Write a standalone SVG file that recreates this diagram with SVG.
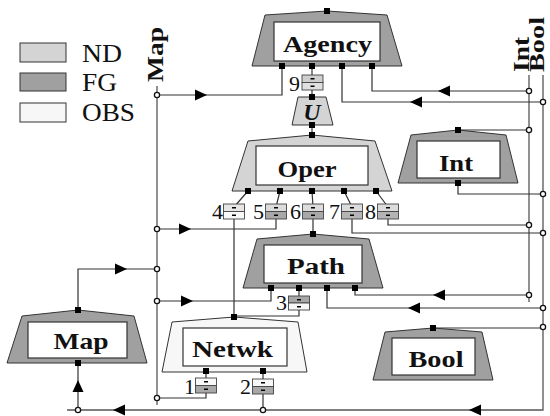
<svg xmlns="http://www.w3.org/2000/svg" xmlns:xlink="http://www.w3.org/1999/xlink" width="550" height="416" viewBox="0 0 550 416">
<style>
.fg{fill:#a0a0a0;stroke:#333;stroke-width:1}
.nd{fill:#d4d4d4;stroke:#333;stroke-width:1}
.obs{fill:#f7f7f7;stroke:#333;stroke-width:1}
.in{fill:#fff;stroke:#333;stroke-width:1.2}
.lbl{font-family:"Liberation Serif","DejaVu Serif","Times New Roman",serif;font-weight:bold;font-size:24px;fill:#111;text-anchor:middle}
.leg{font-family:"Liberation Serif","DejaVu Serif","Times New Roman",serif;font-size:26px;fill:#111}
.num{font-family:"Liberation Serif","DejaVu Serif","Times New Roman",serif;font-size:22px;fill:#111;text-anchor:end}
.ln{fill:none;stroke:#333;stroke-width:1.2}
.bus{fill:none;stroke:#555;stroke-width:1.3}
.dot{fill:#fff;stroke:#111;stroke-width:1.3}
.bx{stroke:#444;stroke-width:0.9}
.ds{fill:#000}
</style>
<defs>
<path id="arr" d="M6,0 L-6,-5.5 L-6,5.5 Z" fill="#000"/>
<rect id="sq" x="-3" y="-3" width="6" height="6" fill="#000"/>
</defs>

<g id="legend">
<rect x="20" y="43" width="46" height="19" class="nd"/>
<rect x="20" y="73" width="46" height="18" class="fg"/>
<rect x="20" y="103" width="46" height="19" class="obs"/>
<text class="leg" x="82" y="62" textLength="40" lengthAdjust="spacingAndGlyphs">ND</text>
<text class="leg" x="82" y="91" textLength="35" lengthAdjust="spacingAndGlyphs">FG</text>
<text class="leg" x="82" y="121" textLength="53" lengthAdjust="spacingAndGlyphs">OBS</text>
</g>

<g id="bus-labels">
<text class="lbl" style="text-anchor:start" transform="translate(163,82) rotate(-90)" textLength="55" lengthAdjust="spacingAndGlyphs">Map</text>
<text class="lbl" style="text-anchor:start" transform="translate(529,72) rotate(-90)" textLength="35" lengthAdjust="spacingAndGlyphs">Int</text>
<text class="lbl" style="text-anchor:start;font-size:22px" transform="translate(544,72) rotate(-90)" textLength="55" lengthAdjust="spacingAndGlyphs">Bool</text>
</g>

<g id="connectors">
<path class="bus" d="M157,86 V405"/>
<path class="bus" d="M529,75 V302"/>
<path class="bus" d="M543,75 V410 H67"/>
<path class="ln" d="M157,95 H282 V66"/>
<path class="ln" d="M312,66 V97"/>
<path class="ln" d="M543,102 H342 V66"/>
<path class="ln" d="M529,91 H372 V66"/>
<path class="ln" d="M312,125 V135"/>
<path class="ln" d="M458,130 H529"/>
<path class="ln" d="M458,183 V194 H543"/>
<path class="ln" d="M248,191 L234,207 M280,191 L276,207 M312,191 L313,207 M344,191 L352,207 M376,191 L388,207"/>
<path class="ln" d="M234,216 V317"/>
<path class="ln" d="M276,216 V229 H157"/>
<path class="ln" d="M313,216 V234"/>
<path class="ln" d="M352,216 V233 H543"/>
<path class="ln" d="M388,216 V225 H529"/>
<path class="ln" d="M157,301 H271 V288"/>
<path class="ln" d="M299,288 V316 H234"/>
<path class="ln" d="M543,308 H327 V288"/>
<path class="ln" d="M529,295 H355 V288"/>
<path class="ln" d="M433,328 H543"/>
<path class="ln" d="M78,310 V269 H157"/>
<path class="ln" d="M78,410 V363"/>
<path class="ln" d="M206,371 V398 H157"/>
<path class="ln" d="M263,371 V410"/>
<use xlink:href="#arr" transform="translate(201,95)"/>
<use xlink:href="#arr" transform="translate(416,102) rotate(180)"/>
<use xlink:href="#arr" transform="translate(444,91) rotate(180)"/>
<use xlink:href="#arr" transform="translate(185,229)"/>
<use xlink:href="#arr" transform="translate(187,301)"/>
<use xlink:href="#arr" transform="translate(414,308) rotate(180)"/>
<use xlink:href="#arr" transform="translate(439,295) rotate(180)"/>
<use xlink:href="#arr" transform="translate(121,269)"/>
<use xlink:href="#arr" transform="translate(78,386) rotate(-90)"/>
<use xlink:href="#arr" transform="translate(119,410) rotate(180)"/>
<use xlink:href="#arr" transform="translate(475,410) rotate(180)"/>
<circle class="dot" cx="157" cy="95" r="2.6"/>
<circle class="dot" cx="529" cy="91" r="2.6"/>
<circle class="dot" cx="543" cy="102" r="2.6"/>
<circle class="dot" cx="529" cy="130" r="2.6"/>
<circle class="dot" cx="543" cy="194" r="2.6"/>
<circle class="dot" cx="157" cy="229" r="2.6"/>
<circle class="dot" cx="529" cy="225" r="2.6"/>
<circle class="dot" cx="543" cy="233" r="2.6"/>
<circle class="dot" cx="157" cy="269" r="2.6"/>
<circle class="dot" cx="529" cy="295" r="2.6"/>
<circle class="dot" cx="157" cy="301" r="2.6"/>
<circle class="dot" cx="543" cy="308" r="2.6"/>
<circle class="dot" cx="543" cy="327" r="2.6"/>
<circle class="dot" cx="157" cy="398" r="2.6"/>
<circle class="dot" cx="78" cy="410" r="2.6"/>
<circle class="dot" cx="263" cy="410" r="2.6"/>
</g>

<g id="ports">
<g id="port9"><rect class="bx" x="302" y="75" width="21" height="7.5" fill="#cfcfcf"/><rect class="bx" x="302" y="82.5" width="21" height="7.5" fill="#e0e0e0"/><rect class="ds" x="310.5" y="78" width="4" height="1.5"/><rect class="ds" x="310.5" y="85.5" width="4" height="1.5"/><text class="num" x="300" y="91">9</text></g>
<g id="port4"><rect class="bx" x="223.5" y="204" width="21" height="7.5" fill="#e6e6e6"/><rect class="bx" x="223.5" y="211.5" width="21" height="7.5" fill="#f8f8f8"/><rect class="ds" x="232" y="207" width="4" height="1.5"/><rect class="ds" x="232" y="214.5" width="4" height="1.5"/><text class="num" x="223" y="219">4</text></g>
<g id="port5"><rect class="bx" x="265.5" y="204" width="21" height="7.5" fill="#dcdcdc"/><rect class="bx" x="265.5" y="211.5" width="21" height="7.5" fill="#a8a8a8"/><rect class="ds" x="274" y="207" width="4" height="1.5"/><rect class="ds" x="274" y="214.5" width="4" height="1.5"/><text class="num" x="264" y="219">5</text></g>
<g id="port6"><rect class="bx" x="302.5" y="204" width="21" height="7.5" fill="#dcdcdc"/><rect class="bx" x="302.5" y="211.5" width="21" height="7.5" fill="#a8a8a8"/><rect class="ds" x="311" y="207" width="4" height="1.5"/><rect class="ds" x="311" y="214.5" width="4" height="1.5"/><text class="num" x="301" y="219">6</text></g>
<g id="port7"><rect class="bx" x="341.5" y="204" width="21" height="7.5" fill="#dcdcdc"/><rect class="bx" x="341.5" y="211.5" width="21" height="7.5" fill="#b4b4b4"/><rect class="ds" x="350" y="207" width="4" height="1.5"/><rect class="ds" x="350" y="214.5" width="4" height="1.5"/><text class="num" x="340" y="219">7</text></g>
<g id="port8"><rect class="bx" x="377.5" y="204" width="21" height="7.5" fill="#dcdcdc"/><rect class="bx" x="377.5" y="211.5" width="21" height="7.5" fill="#b4b4b4"/><rect class="ds" x="386" y="207" width="4" height="1.5"/><rect class="ds" x="386" y="214.5" width="4" height="1.5"/><text class="num" x="376" y="219">8</text></g>
<g id="port3"><rect class="bx" x="288.5" y="296" width="21" height="7" fill="#a8a8a8"/><rect class="bx" x="288.5" y="303" width="21" height="7" fill="#f8f8f8"/><rect class="ds" x="297" y="299" width="4" height="1.5"/><rect class="ds" x="297" y="306" width="4" height="1.5"/><text class="num" x="287" y="310">3</text></g>
<g id="port1"><rect class="bx" x="195.5" y="378" width="21" height="7.5" fill="#f8f8f8"/><rect class="bx" x="195.5" y="385.5" width="21" height="7.5" fill="#a8a8a8"/><rect class="ds" x="204" y="381" width="4" height="1.5"/><rect class="ds" x="204" y="388.5" width="4" height="1.5"/><text class="num" x="195" y="394">1</text></g>
<g id="port2"><rect class="bx" x="252.5" y="379" width="21" height="7.5" fill="#f8f8f8"/><rect class="bx" x="252.5" y="386.5" width="21" height="7.5" fill="#a8a8a8"/><rect class="ds" x="261" y="382" width="4" height="1.5"/><rect class="ds" x="261" y="389.5" width="4" height="1.5"/><text class="num" x="251" y="394">2</text></g>
</g>

<g id="node-agency">
<polygon class="fg" points="252,66 265,15 327,11 387,15 402,66"/>
<rect class="in" x="274" y="22" width="106" height="39"/>
<text class="lbl" x="327.5" y="52" textLength="89" lengthAdjust="spacingAndGlyphs">Agency</text>
<use xlink:href="#sq" x="327" y="11"/>
<use xlink:href="#sq" x="282" y="66"/><use xlink:href="#sq" x="312" y="66"/><use xlink:href="#sq" x="342" y="66"/><use xlink:href="#sq" x="372" y="66"/>
</g>

<g id="node-u">
<polygon class="nd" points="292,125 298,97 326,97 333,125"/>
<text class="lbl" x="312" y="120" style="font-style:italic;font-size:24px">U</text>
<use xlink:href="#sq" x="312" y="97"/><use xlink:href="#sq" x="312" y="125"/>
</g>

<g id="node-oper">
<polygon class="nd" points="232,191 248,141 312,135 375,141 392,191"/>
<rect class="in" x="256" y="146" width="112" height="39"/>
<text class="lbl" x="307" y="177" textLength="59" lengthAdjust="spacingAndGlyphs">Oper</text>
<use xlink:href="#sq" x="312" y="135"/>
<use xlink:href="#sq" x="248" y="191"/><use xlink:href="#sq" x="280" y="191"/><use xlink:href="#sq" x="312" y="191"/><use xlink:href="#sq" x="344" y="191"/><use xlink:href="#sq" x="376" y="191"/>
</g>

<g id="node-int">
<polygon class="fg" points="398,183 411,135 458,130 506,135 518,183"/>
<rect class="in" x="417" y="141" width="83" height="37"/>
<text class="lbl" x="456" y="171" textLength="34" lengthAdjust="spacingAndGlyphs">Int</text>
<use xlink:href="#sq" x="458" y="130"/><use xlink:href="#sq" x="458" y="183"/>
</g>

<g id="node-path">
<polygon class="fg" points="243,288 257,239 313,234 369,239 383,288"/>
<rect class="in" x="264" y="245" width="98" height="38"/>
<text class="lbl" x="316" y="274" textLength="58" lengthAdjust="spacingAndGlyphs">Path</text>
<use xlink:href="#sq" x="313" y="234"/>
<use xlink:href="#sq" x="271" y="288"/><use xlink:href="#sq" x="299" y="288"/><use xlink:href="#sq" x="327" y="288"/><use xlink:href="#sq" x="355" y="288"/>
</g>

<g id="node-map">
<polygon class="fg" points="7,363 22,316 78,310 134,316 147,363"/>
<rect class="in" x="28" y="322" width="99" height="36"/>
<text class="lbl" x="81" y="349" textLength="55" lengthAdjust="spacingAndGlyphs">Map</text>
<use xlink:href="#sq" x="78" y="310"/><use xlink:href="#sq" x="78" y="363"/>
</g>

<g id="node-netwk">
<polygon class="obs" points="162,372 172,322 234,317 298,322 307,372"/>
<rect class="in" x="183" y="328" width="104" height="38"/>
<text class="lbl" x="232.5" y="357" textLength="81" lengthAdjust="spacingAndGlyphs">Netwk</text>
<use xlink:href="#sq" x="234" y="317"/>
<use xlink:href="#sq" x="206" y="371"/><use xlink:href="#sq" x="263" y="371"/>
</g>

<g id="node-bool">
<polygon class="fg" points="373,380 385,332 433,328 482,332 493,380"/>
<rect class="in" x="392" y="338" width="83" height="37"/>
<text class="lbl" x="436" y="367" textLength="55" lengthAdjust="spacingAndGlyphs">Bool</text>
<use xlink:href="#sq" x="433" y="328"/>
</g>
</svg>
